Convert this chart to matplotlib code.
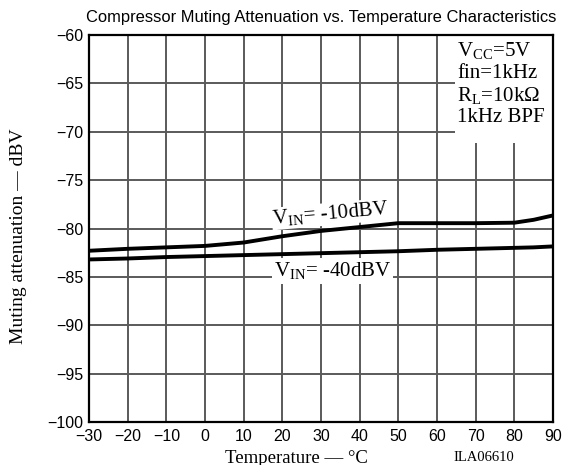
import matplotlib
matplotlib.use('Agg')
import numpy as np
from matplotlib import pyplot as plt
from matplotlib.patches import Rectangle

# data
temp = [-30, -20, -10, 0, 10, 20, 30, 40, 50, 60, 70, 80, 85, 90]
att_10dbv = [-82.3, -82.1, -81.95, -81.8, -81.45, -80.8, -80.25, -79.85, -79.45, -79.45, -79.45, -79.4, -79.1, -78.65]
att_40dbv = [-83.2, -83.1, -82.95, -82.85, -82.75, -82.65, -82.55, -82.45, -82.35, -82.2, -82.1, -82.0, -81.95, -81.85]
xticks = list(range(-30, 91, 10))
yticks = list(range(-100, -59, 5))

serif = ['Liberation Serif', 'DejaVu Serif']
sans = ['Liberation Sans', 'DejaVu Sans']
plt.rcParams['mathtext.fontset'] = 'custom'
plt.rcParams['mathtext.rm'] = 'Liberation Serif'

fig = plt.figure(figsize=(5.64, 4.65), dpi=100)
ax = fig.add_axes([0.1578, 0.0925, 0.8227, 0.8322])
ax.set_xlim(-30, 90)
ax.set_ylim(-100, -60)
ax.set_xticks(xticks)
ax.set_yticks(yticks)
ax.set_xticklabels([str(t).replace('-', '\u2212') for t in xticks], family=sans, fontsize=11.5)
ax.set_yticklabels([str(t).replace('-', '\u2212') for t in yticks], family=sans, fontsize=11.5)
ax.tick_params(axis='x', length=0, pad=5)
ax.tick_params(axis='y', length=0, pad=4)
ax.set_axisbelow(True)
ax.grid(True, color='#5a5a5a', linewidth=1.4)
for s in ax.spines.values():
    s.set_linewidth(1.6)

ax.plot(temp, att_10dbv, color='black', linewidth=2.8, zorder=3)
ax.plot(temp, att_40dbv, color='black', linewidth=2.8, zorder=3)

ax.text(32.5, -78.5, r'V$_{\rm IN}$= -10dBV', family=serif, fontsize=15, rotation=5,
        ha='center', va='center', zorder=4,
        bbox=dict(facecolor='white', edgecolor='none', pad=0.3))
ax.text(33, -84.4, r'V$_{\rm IN}$= -40dBV', family=serif, fontsize=15,
        ha='center', va='center', zorder=4,
        bbox=dict(facecolor='white', edgecolor='none', pad=1.5))

# white box behind the conditions text
ax.add_patch(Rectangle((0.789, 0.722), 0.211, 0.278, transform=ax.transAxes,
                       facecolor='white', edgecolor='none', zorder=2))
ax.text(0.794, 0.985, 'V$_{\\rm CC}$=5V\nfin=1kHz\nR$_{\\rm L}$=10k\u03a9\n1kHz BPF',
        transform=ax.transAxes, family=serif, fontsize=15, ha='left', va='top',
        linespacing=1.12, zorder=4)

fig.text(0.569, 0.962, 'Compressor Muting Attenuation vs. Temperature Characteristics',
         family=sans, fontsize=11.9, ha='center', va='center')
fig.text(0.525, 0.014, 'Temperature \u2014 \u00b0C', family=serif, fontsize=13.5, ha='center', va='center')
fig.text(0.857, 0.016, 'ILA06610', family=serif, fontsize=10.5, ha='center', va='center')
fig.text(0.033, 0.493, 'Muting attenuation \u2014 dBV', family=serif, fontsize=14,
         rotation=90, ha='center', va='center')

plt.savefig('out.png', dpi=100)
